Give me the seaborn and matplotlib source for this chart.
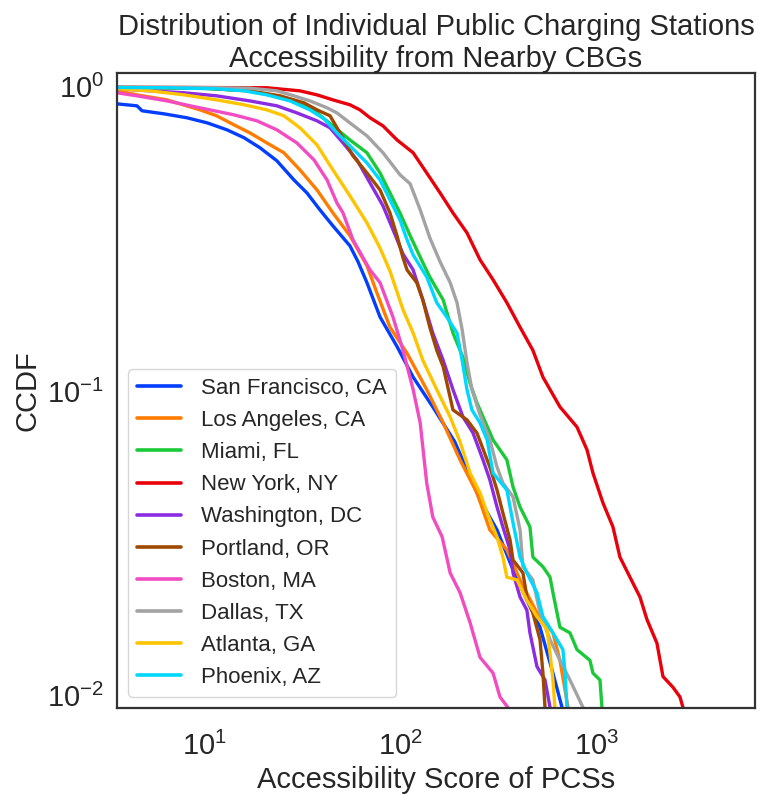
import numpy as np
import pandas as pd
import matplotlib
matplotlib.use("Agg")
import matplotlib.pyplot as plt
import seaborn as sns

cities = ["San Francisco, CA", "Los Angeles, CA", "Miami, FL", "New York, NY",
          "Washington, DC", "Portland, OR", "Boston, MA", "Dallas, TX",
          "Atlanta, GA", "Phoenix, AZ"]

sf_x = [3.61, 4.56, 4.84, 6.26, 8.19, 10.4, 13.1, 16.0, 19.3, 23.5, 28.7, 33.4, 38.9, 45.3, 55.3,
        60.8, 67.5, 78.7, 96.0, 116, 146, 189, 254, 310, 374, 440, 513, 597, 664, 690]
sf_y = [0.879, 0.866, 0.834, 0.815, 0.791, 0.761, 0.722, 0.680, 0.630, 0.571, 0.494, 0.448, 0.394, 0.349, 0.300,
        0.266, 0.227, 0.175, 0.140, 0.111, 0.0886, 0.0680, 0.0438, 0.0349, 0.0258, 0.0205, 0.0167, 0.0118, 0.0091, 0.0085]

la_x = [3.61, 4.56, 6.48, 9.54, 11.6, 14.2, 17.1, 20.9, 25.5, 30.8, 37.6, 45.3, 55.3, 67.5, 75.9,
        88.4, 108, 136, 165, 201, 245, 285, 348, 406, 495, 597, 648, 712, 730]
la_y = [0.970, 0.941, 0.906, 0.840, 0.803, 0.750, 0.706, 0.654, 0.607, 0.533, 0.458, 0.385, 0.324, 0.258, 0.210,
        0.162, 0.133, 0.101, 0.0785, 0.0593, 0.0462, 0.0349, 0.0300, 0.0239, 0.0186, 0.0160, 0.0130, 0.0091, 0.0085]

mia_x = [3.61, 9.54, 17.1, 25.5, 32.3, 37.6, 45.3, 55.3, 67.5, 78.7, 88.4, 99.4, 112, 130, 141, 165, 185,
         208, 226, 245, 296, 348, 374, 406, 456, 472, 531, 577, 597, 648, 729, 791, 921, 954, 1036, 1060, 1080]
mia_y = [0.995, 0.990, 0.970, 0.920, 0.873, 0.821, 0.744, 0.669, 0.607, 0.521, 0.448, 0.385, 0.324, 0.264, 0.237,
         0.199, 0.155, 0.129, 0.106, 0.0913, 0.0690, 0.0593, 0.0483, 0.0415, 0.0357, 0.0284, 0.0264, 0.0244,
         0.0217, 0.0167, 0.0160, 0.0141, 0.0130, 0.0118, 0.0112, 0.0091, 0.0085]

ny_x = [3.61, 20.9, 30.8, 37.6, 45.3, 55.3, 62.2, 70.0, 81.5, 96.0, 116, 136, 159, 185, 218, 254, 296, 348,
        406, 472, 531, 648, 791, 890, 954, 1073, 1206, 1309, 1472, 1655, 1797, 2020, 2167, 2437, 2645, 2740, 2800]
ny_y = [0.997, 0.993, 0.970, 0.941, 0.906, 0.873, 0.840, 0.791, 0.744, 0.669, 0.607, 0.521, 0.448, 0.385,
        0.331, 0.270, 0.232, 0.195, 0.162, 0.136, 0.111, 0.0886, 0.0761, 0.0640, 0.0537, 0.0428, 0.0357,
        0.0284, 0.0244, 0.0210, 0.0177, 0.0148, 0.0115, 0.0106, 0.00985, 0.0091, 0.0085]

dc_x = [3.61, 5.31, 7.91, 11.6, 17.1, 23.5, 29.7, 37.6, 43.8, 51.0, 60.1, 70.0, 81.5, 91.6, 103, 116, 130,
        146, 165, 185, 208, 234, 263, 285, 310, 332, 361, 374, 406, 440, 456, 495, 544, 577, 590]
dc_y = [0.985, 0.970, 0.956, 0.934, 0.899, 0.866, 0.821, 0.773, 0.733, 0.654, 0.575, 0.483, 0.406, 0.339,
        0.282, 0.250, 0.199, 0.155, 0.126, 0.101, 0.0821, 0.0727, 0.0593, 0.0510, 0.0415, 0.0357, 0.0300,
        0.0252, 0.0210, 0.0190, 0.0160, 0.0124, 0.0112, 0.0091, 0.0085]

pdx_x = [3.61, 9.54, 17.1, 24.4, 32.3, 37.6, 43.8, 49.2, 57.3, 67.5, 78.7, 88.4, 96.0, 103, 108, 121, 130,
         141, 153, 165, 185, 218, 245, 285, 310, 332, 361, 374, 420, 440, 472, 513, 531, 544, 550]
pdx_y = [0.993, 0.992, 0.970, 0.934, 0.886, 0.840, 0.803, 0.706, 0.593, 0.521, 0.458, 0.385, 0.324, 0.274,
         0.250, 0.227, 0.199, 0.162, 0.136, 0.120, 0.0866, 0.0803, 0.0727, 0.0562, 0.0472, 0.0397, 0.0324,
         0.0278, 0.0252, 0.0210, 0.0186, 0.0152, 0.0118, 0.0091, 0.0085]

bos_x = [3.61, 4.56, 6.48, 9.54, 14.2, 18.6, 23.5, 29.7, 36.3, 42.3, 47.5, 51.0, 57.3, 70.0, 78.7, 91.6,
         103, 116, 126, 136, 146, 163, 179, 201, 226, 254, 296, 321, 352, 360]
bos_y = [0.956, 0.934, 0.899, 0.853, 0.809, 0.773, 0.722, 0.654, 0.575, 0.494, 0.415, 0.385, 0.314, 0.250,
         0.227, 0.175, 0.136, 0.101, 0.0785, 0.0498, 0.0385, 0.0331, 0.0252, 0.0217, 0.0173, 0.0133, 0.0118,
         0.00985, 0.0091, 0.0085]

dal_x = [3.61, 9.54, 17.1, 23.5, 28.7, 34.6, 42.3, 47.5, 55.3, 67.5, 81.5, 99.4, 112, 126, 141, 159, 179,
         194, 206, 218, 231, 254, 285, 310, 332, 374, 406, 420, 472, 513, 577, 648, 729, 849, 880]
dal_y = [0.997, 0.995, 0.990, 0.970, 0.934, 0.899, 0.853, 0.821, 0.761, 0.690, 0.607, 0.514, 0.480, 0.394,
         0.319, 0.266, 0.227, 0.195, 0.159, 0.124, 0.101, 0.0834, 0.0690, 0.0562, 0.0498, 0.0448, 0.0349,
         0.0264, 0.0239, 0.0186, 0.0152, 0.0130, 0.0112, 0.0091, 0.0085]

atl_x = [3.61, 5.31, 7.91, 11.6, 16.0, 20.9, 25.5, 30.8, 37.6, 45.3, 55.3, 67.5, 78.7, 88.4, 103, 116, 130,
         153, 179, 201, 226, 254, 276, 310, 332, 348, 392, 440, 495, 557, 577, 597, 611, 620]
atl_y = [0.985, 0.970, 0.941, 0.906, 0.873, 0.840, 0.803, 0.733, 0.644, 0.533, 0.438, 0.357, 0.295, 0.248,
         0.185, 0.155, 0.126, 0.101, 0.0821, 0.0680, 0.0537, 0.0462, 0.0397, 0.0331, 0.0284, 0.0244, 0.0239,
         0.0205, 0.0181, 0.0164, 0.0137, 0.0112, 0.0091, 0.0085]

phx_x = [3.61, 6.48, 11.6, 16.0, 20.9, 27.4, 34.6, 40.8, 47.5, 55.3, 67.5, 78.7, 88.4, 99.4, 108, 116, 136,
         153, 172, 194, 206, 218, 231, 254, 276, 296, 348, 374, 406, 440, 495, 531, 597, 671, 688, 704, 710]
phx_y = [0.995, 0.993, 0.985, 0.970, 0.941, 0.899, 0.840, 0.785, 0.706, 0.640, 0.562, 0.494, 0.425, 0.365,
         0.314, 0.280, 0.237, 0.195, 0.175, 0.155, 0.126, 0.101, 0.0866, 0.0785, 0.0690, 0.0537, 0.0472,
         0.0368, 0.0284, 0.0252, 0.0217, 0.0181, 0.0160, 0.0141, 0.0118, 0.0091, 0.0085]

series_x = [sf_x, la_x, mia_x, ny_x, dc_x, pdx_x, bos_x, dal_x, atl_x, phx_x]
series_y = [sf_y, la_y, mia_y, ny_y, dc_y, pdx_y, bos_y, dal_y, atl_y, phx_y]

frames = []
for c, xs, ys in zip(cities, series_x, series_y):
    frames.append(pd.DataFrame({"city": c, "score": xs, "ccdf": ys}))
df = pd.concat(frames, ignore_index=True)

sns.set_theme(style="white", palette="bright")
plt.rcParams["font.family"] = ["Liberation Sans", "DejaVu Sans"]
plt.rcParams["mathtext.fontset"] = "custom"
plt.rcParams["mathtext.rm"] = "Liberation Sans"
plt.rcParams["mathtext.it"] = "Liberation Sans:italic"
plt.rcParams["mathtext.bf"] = "Liberation Sans:bold"

fig = plt.figure(figsize=(7.58, 7.94), dpi=100)
ax = fig.add_axes([0.1544, 0.1083, 0.8416, 0.7997])

sns.lineplot(data=df, x="score", y="ccdf", hue="city", hue_order=cities,
             palette="bright", linewidth=2.4, estimator=None, sort=False, ax=ax)

ax.set_xscale("log")
ax.set_yscale("log")
ax.set_xlim(3.61, 6370)
ax.set_ylim(0.00906, 1.11)

ax.set_title("Distribution of Individual Public Charging Stations\nAccessibility from Nearby CBGs",
             fontsize=21, pad=4)
ax.set_xlabel("Accessibility Score of PCSs", fontsize=21, labelpad=4)
ax.set_ylabel("CCDF", fontsize=21)
ax.tick_params(axis="both", which="major", labelsize=21)
ax.tick_params(axis="x", which="major", pad=11)
ax.tick_params(axis="both", which="minor", length=0)

for s in ax.spines.values():
    s.set_color("#333333")
    s.set_linewidth(1.6)

leg = ax.legend(loc="lower left", fontsize=16, title=None, handletextpad=0.9)
for line in leg.get_lines():
    line.set_linewidth(2.6)

fig.savefig("out.png", dpi=100)
